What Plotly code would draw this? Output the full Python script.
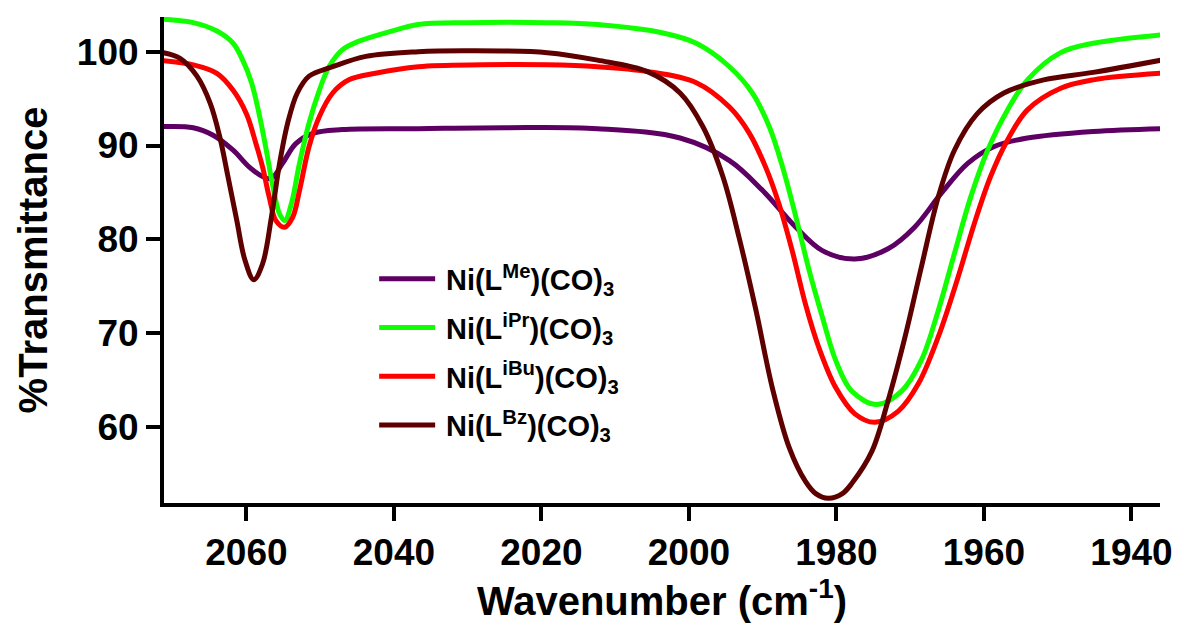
import plotly.graph_objects as go

# ---- data (wavenumber in cm^-1, %Transmittance) ----
me_x = [2072, 2067.2, 2064.5, 2061.8, 2059.6, 2057.8, 2056.6, 2055.1, 2053.3, 2051.0, 2047.0, 2036.7, 2025,
        2012.4, 2001.2, 1994.5, 1990.0, 1985.5, 1981.9, 1977.5, 1973.0, 1969.4, 1965.8, 1962.2, 1958.6,
        1954.1, 1945.2, 1936]
me_y = [92.0, 91.9, 91.1, 89.5, 87.7, 86.7, 86.5, 88.1, 90.2, 91.3, 91.7, 91.8, 91.9,
        91.8, 90.8, 88.4, 85.2, 81.3, 78.8, 77.9, 79.0, 81.3, 84.9, 88.1, 89.9,
        90.8, 91.5, 91.8]

ipr_x = [2072, 2067.2, 2064.0, 2061.8, 2060.5, 2059.3, 2058.2, 2057.3, 2056.4, 2055.5, 2054.8, 2053.9,
         2052.8, 2051.5, 2050.1, 2048.8, 2047.0, 2044.8, 2040.3, 2036.7, 2030, 2019.2, 2012.4, 2003.5,
         1999.0, 1994.5, 1991.4, 1989.1, 1987.3, 1985.5, 1983.7, 1981.9, 1980.1, 1977.9, 1974.5, 1971.2,
         1968.5, 1966.2, 1964.0, 1961.8, 1959.5, 1956.8, 1954.1, 1949.6, 1945.2, 1936]
ipr_y = [103.5, 103.1, 102.2, 100.9, 99.1, 96.7, 93.1, 89.5, 85.6, 82.7, 82.0, 83.8,
         88.1, 92.4, 95.9, 98.4, 100.2, 101.1, 102.2, 102.9, 103.1, 103.1, 102.9, 102.0,
         100.9, 98.4, 95.6, 92.0, 87.7, 82.4, 76.7, 71.7, 67.1, 63.8, 62.4, 63.8,
         67.1, 72.4, 78.5, 84.5, 89.5, 93.8, 97.0, 99.9, 100.9, 101.8]

ibu_x = [2072, 2067.2, 2064.0, 2061.8, 2060.0, 2058.7, 2057.8, 2056.9, 2056.0, 2054.8, 2053.7, 2052.8,
         2051.5, 2050.1, 2048.3, 2046.1, 2042.5, 2036.7, 2028, 2019.2, 2012.4, 2005.7, 1999.0, 1994.5,
         1991.8, 1989.6, 1987.8, 1986.0, 1984.2, 1982.4, 1980.1, 1977.5, 1974.8, 1971.6, 1968.9, 1966.2,
         1963.5, 1961.3, 1959.1, 1956.8, 1954.1, 1949.6, 1945.2, 1936]
ibu_y = [99.1, 98.6, 97.7, 95.9, 93.4, 90.2, 87.7, 84.5, 82.0, 81.3, 82.4, 85.2,
         89.9, 93.1, 95.6, 97.0, 97.7, 98.4, 98.6, 98.6, 98.4, 97.9, 96.7, 94.1,
         91.3, 87.7, 83.8, 78.8, 73.1, 68.5, 64.2, 61.4, 60.5, 61.7, 64.6, 69.6,
         76.0, 81.7, 86.7, 90.6, 93.8, 96.1, 97.0, 97.7]

bz_x = [2072, 2069.0, 2066.7, 2064.9, 2063.6, 2062.5, 2061.3, 2060.2, 2059.0, 2057.8, 2056.6, 2055.5,
        2054.4, 2053.1, 2051.5, 2048.3, 2043.8, 2036.7, 2030, 2019.2, 2012.4, 2005.7, 2001.2, 1998.1,
        1995.4, 1993.2, 1990.9, 1988.7, 1986.4, 1984.2, 1982.8, 1981.1, 1979.2, 1977.9, 1975.2, 1973.0,
        1970.7, 1968.5, 1966.2, 1964.0, 1960.9, 1957.3, 1951.9, 1945.2, 1936]
bz_y = [100.0, 99.3, 97.4, 94.5, 90.9, 86.7, 82.0, 77.8, 75.7, 77.4, 82.4, 88.1,
        92.4, 95.6, 97.4, 98.4, 99.5, 100.0, 100.1, 99.9, 99.1, 97.9, 95.6, 92.0,
        86.7, 80.2, 72.4, 64.2, 57.8, 54.2, 52.9, 52.4, 52.9, 54.0, 57.4, 62.8,
        69.6, 77.0, 84.5, 89.5, 93.4, 95.6, 97.0, 97.8, 99.1]

series_names = ["\u2009Ni(L<sup>Me</sup>)(CO)<sub>3</sub>",
                "\u2009Ni(L<sup>iPr</sup>)(CO)<sub>3</sub>",
                "\u2009Ni(L<sup>iBu</sup>)(CO)<sub>3</sub>",
                "\u2009Ni(L<sup>Bz</sup>)(CO)<sub>3</sub>"]
series_colors = ["#5E0063", "#11FF00", "#FF0000", "#5E0000"]

x_ticks = [2060, 2040, 2020, 2000, 1980, 1960, 1940]
y_ticks = [60, 70, 80, 90, 100]

FONT = "Liberation Sans, Arial, Helvetica, sans-serif"

fig = go.Figure()
for i, (xs, ys) in enumerate([(me_x, me_y), (ipr_x, ipr_y), (ibu_x, ibu_y), (bz_x, bz_y)]):
    fig.add_trace(go.Scatter(
        x=xs, y=ys, mode="lines", name=series_names[i],
        line=dict(color=series_colors[i], width=5, shape="spline", smoothing=1.0),
        legendgroup=f"g{i}",
    ))

fig.update_layout(
    width=1184, height=630,
    margin=dict(l=164, r=17, t=17, b=127),
    paper_bgcolor="white", plot_bgcolor="white",
    font=dict(family=FONT, color="black"),
    showlegend=True,
    legend=dict(
        x=0.211, y=0.5135, xanchor="left", yanchor="top",
        font=dict(family=FONT, size=29, color="black", weight="bold"),
        bgcolor="rgba(0,0,0,0)", itemwidth=56, tracegroupgap=8,
    ),
)
fig.update_xaxes(
    range=[2071.17, 1936.13], tickmode="array", tickvals=x_ticks,
    showgrid=False, zeroline=False, showline=True, linecolor="black", linewidth=4,
    ticks="outside", ticklen=14, tickwidth=4, tickcolor="black",
    tickfont=dict(family=FONT, size=37, color="black", weight="bold"),
    title=dict(text="Wavenumber (cm<sup>-1</sup>)", standoff=10,
               font=dict(family=FONT, size=40, color="black", weight="bold")),
)
fig.update_yaxes(
    range=[51.9, 103.7], tickmode="array", tickvals=y_ticks,
    showgrid=False, zeroline=False, showline=True, linecolor="black", linewidth=4,
    ticks="outside", ticklen=14, tickwidth=4, tickcolor="black",
    tickfont=dict(family=FONT, size=37, color="black", weight="bold"),
    title=dict(text="%Transmittance", standoff=18,
               font=dict(family=FONT, size=40, color="black", weight="bold")),
)

fig.write_html("out.html")
